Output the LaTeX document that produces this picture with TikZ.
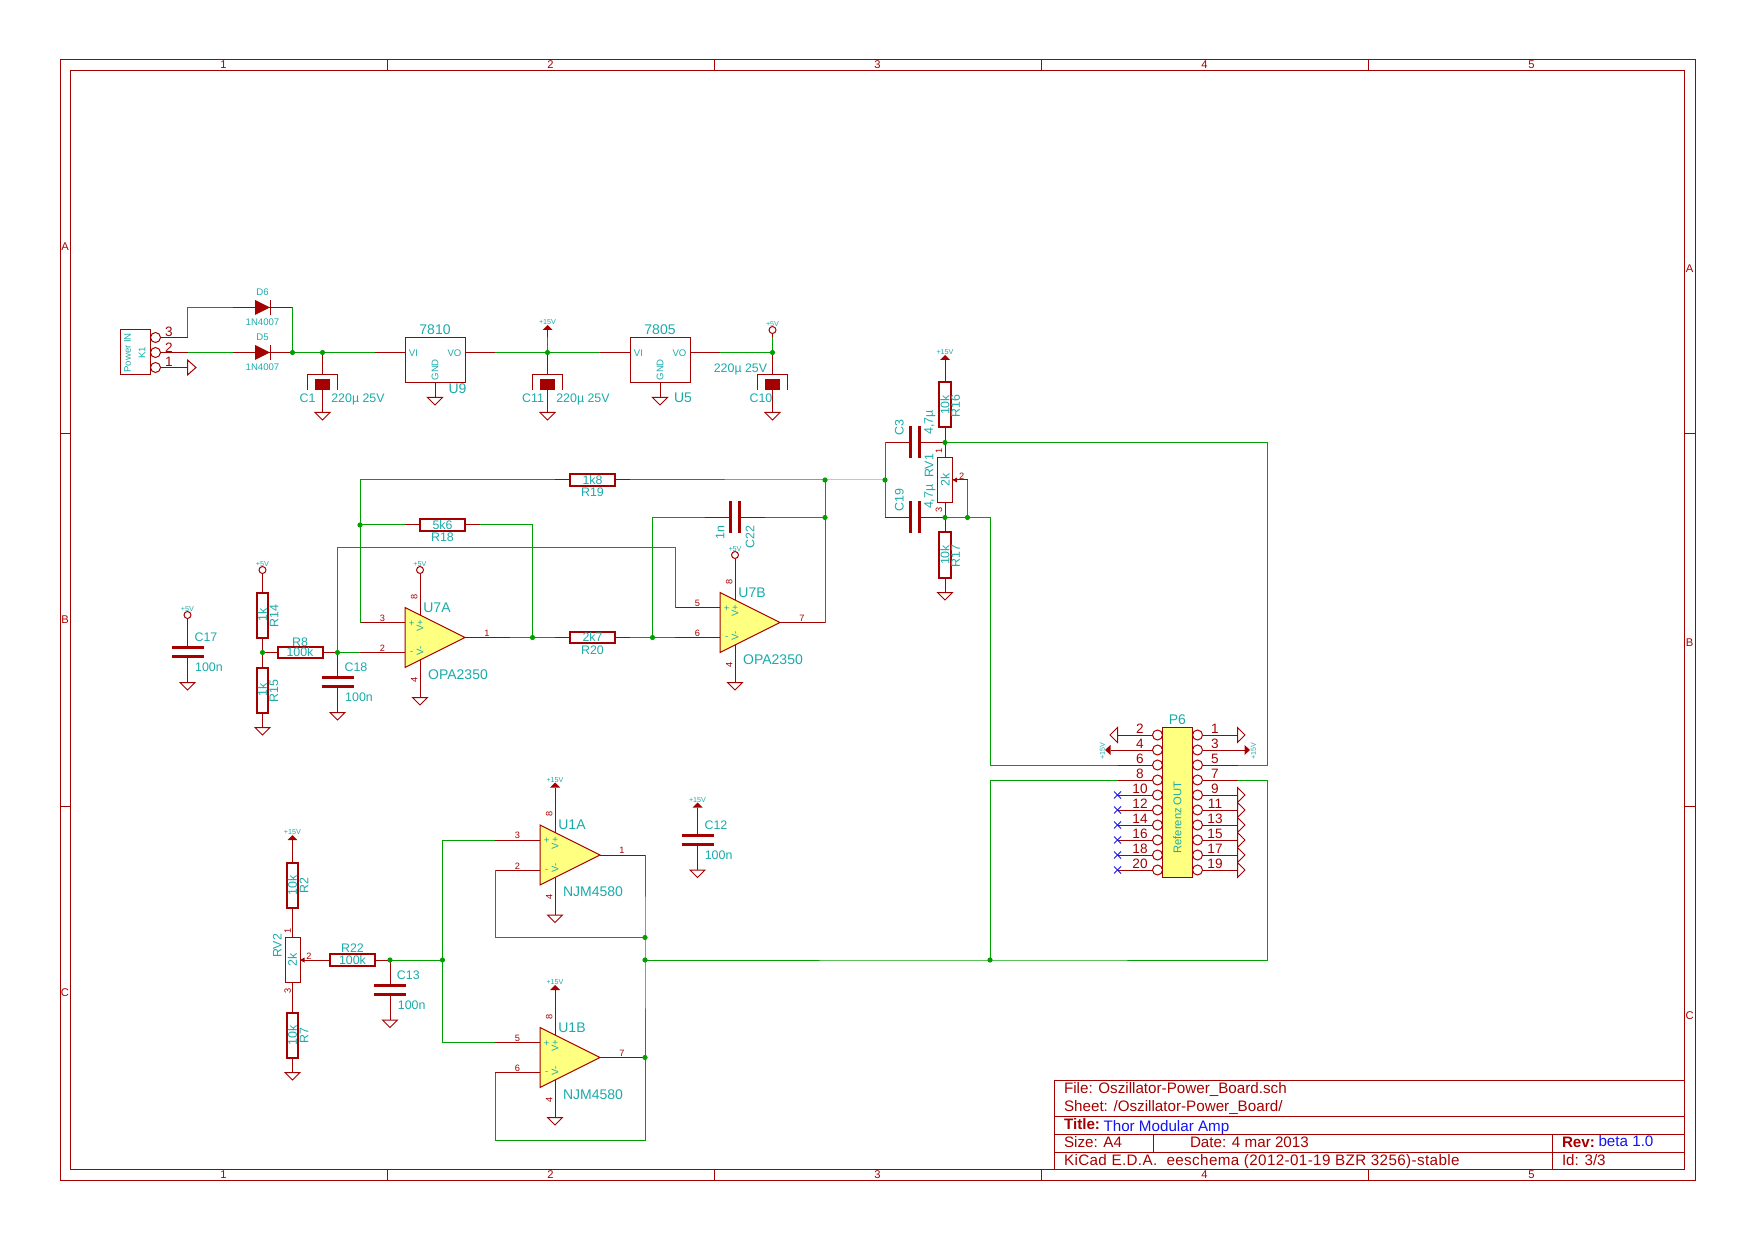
\documentclass[tikz,border=0pt]{standalone}
\usepackage{fontspec}
\setmainfont{Liberation Sans}
\usetikzlibrary{calc}
\definecolor{sch_red}{RGB}{165,0,0}
\definecolor{sch_green}{RGB}{0,160,0}
\definecolor{sch_teal}{RGB}{25,170,170}
\definecolor{sch_yellow}{RGB}{255,255,128}
\definecolor{sch_blue}{RGB}{20,20,240}
\tikzset{
  wire/.style={draw=sch_green, line width=.5pt},
  pinline/.style={draw=sch_red, line width=.5pt},
  frameline/.style={draw=sch_red, line width=.5pt},
  resbox/.style={draw=sch_red, line width=1pt, rectangle, minimum width=22.5pt, minimum height=5.6pt,
    inner sep=0pt, outer sep=0pt, text=sch_teal, font=\fontsize{6.2}{7}\selectfont},
  potbox/.style={resbox, line width=.5pt, minimum height=7.5pt},
  regbox/.style={draw=sch_red, line width=.5pt, rectangle, minimum width=30pt, minimum height=22.5pt,
    inner sep=0pt, outer sep=0pt},
  pincirc/.style={draw=sch_red, line width=.5pt, circle, minimum size=5pt, inner sep=0pt, outer sep=0pt},
  pwrcirc/.style={draw=sch_red, line width=.5pt, circle, minimum size=3.5pt, inner sep=0pt, outer sep=0pt},
  plate/.style={draw=sch_red, line width=1.6pt},
  schlab/.style={text=sch_teal, inner sep=0pt, outer sep=0pt, yshift=-.4pt, font=\fontsize{6.2}{7}\selectfont},
  labbig/.style={font=\fontsize{7}{8}\selectfont},
  labsmall/.style={font=\fontsize{4.8}{5}\selectfont},
  labtiny/.style={font=\fontsize{3.6}{4}\selectfont},
  rot/.style={rotate=90},
  pinno/.style={text=sch_red, font=\fontsize{4.6}{5}\selectfont},
  pinbig/.style={text=sch_red, font=\fontsize{6.8}{7}\selectfont},
  titletxt/.style={text=sch_red, anchor=base west, inner sep=0pt, outer sep=0pt, font=\fontsize{7.6}{8}\selectfont},
  titleblue/.style={titletxt, text=sch_blue},
  titlebold/.style={titletxt, font=\fontsize{7.6}{8}\selectfont\bfseries},
  ticktxt/.style={text=sch_red, inner sep=0pt, outer sep=0pt, font=\fontsize{5.6}{6}\selectfont},
}
% text helper
\newcommand{\schtxt}[4][]{\node[schlab,#1] (#2) at (#3) {#4};}
% ground symbol, top at the given point
\newcommand{\gndsym}[3]{%
  \coordinate (#1) at (#2,#3);
  \draw[pinline] (#1) ++(-7.5,0) -- ++(15,0) -- ++(-7.5,7.5) -- cycle;}
% supplies
\newcommand{\pwrarrow}[3]{%
  \coordinate (#1) at (#2,#3);
  \fill[sch_red] (#1) ++(-5,0) -- ++(10,0) -- ++(-5,-5) -- cycle;
  \schtxt[labtiny]{l#1}{#2,#3-8.5}{+15V}}
\newcommand{\pwrcircle}[3]{%
  \node[pwrcirc] (#1) at (#2,#3) {};
  \schtxt[labtiny]{l#1}{#2,#3-7}{+5V}}
% diode: name, x, y
\newcommand{\diodesym}[3]{%
  \coordinate (#1a) at (#2-30,#3);
  \coordinate (#1k) at (#2+30,#3);
  \draw[pinline] (#1a) -- (#1k);
  \fill[sch_red] (#2-7.5,#3-7.5) -- (#2+7.5,#3) -- (#2-7.5,#3+7.5) -- cycle;
  \draw[pinline] (#2+7.5,#3-7.5) -- (#2+7.5,#3+7.5);}
% regulator: name, x, value, ref x, ref y
\newcommand{\regsym}[5]{%
  \node[regbox] (#1) at (#2,360) {};
  \coordinate (#1i) at (#2-60,352.5);
  \coordinate (#1o) at (#2+60,352.5);
  \draw[pinline] (#1i) -- (#2-30,352.5);
  \draw[pinline] (#2+30,352.5) -- (#1o);
  \gndsym{#1g}{#2}{397.5}
  \draw[pinline] (#2,382.5) -- (#1g);
  \schtxt[labbig]{l#1v}{#2,329}{#3}
  \schtxt[labsmall]{l#1i}{#2-21.5,352.5}{VI}
  \schtxt[labsmall]{l#1o}{#2+19.5,352.5}{VO}
  \schtxt[labsmall,rot]{l#1g}{#2,369}{GND}
  \schtxt[labbig]{l#1}{#4,#5}{#1}}
% polarised capacitor: name, x
\newcommand{\polcap}[2]{%
  \coordinate (#1t) at (#2,352.5);
  \draw[pinline] (#1t) -- (#2,375);
  \draw[pinline] (#2-15,390) -- (#2-15,375) -- (#2+15,375) -- (#2+15,390);
  \fill[sch_red] (#2-7.5,379) rectangle (#2+7.5,390);
  \gndsym{#1g}{#2}{412.5}
  \draw[pinline] (#2,390) -- (#1g);}
% capacitor with horizontal plates: name, x, y of the middle, y of the ground
\newcommand{\caph}[4]{%
  \coordinate (#1t) at (#2,#3-4.5);
  \coordinate (#1b) at (#2,#3+4.5);
  \draw[plate] (#2-16,#3-4.5) -- (#2+16,#3-4.5);
  \draw[plate] (#2-16,#3+4.5) -- (#2+16,#3+4.5);
  \gndsym{#1g}{#2}{#4}
  \draw[pinline] (#1b) -- (#1g);}
% capacitor with vertical plates: name, x of the middle, y
\newcommand{\capv}[3]{%
  \coordinate (#1l) at (#2-4.5,#3);
  \coordinate (#1r) at (#2+4.5,#3);
  \draw[plate] (#2-4.5,#3-16) -- (#2-4.5,#3+16);
  \draw[plate] (#2+4.5,#3-16) -- (#2+4.5,#3+16);}
% op amp: name, x, y, plus, minus, out, value
\newcommand{\opampsym}[7]{%
  \begin{scope}[shift={(#2,#3)}]
    \draw[pinline, fill=sch_yellow] (-30,-30) -- (-30,30) -- (30,0) -- cycle;
    \coordinate (#1p) at (-75,-15);
    \coordinate (#1m) at (-75,15);
    \coordinate (#1o) at (75,0);
    \coordinate (#1t) at (-15,-22.5);
    \coordinate (#1b) at (-15,22.5);
    \draw[pinline] (#1p) -- (-30,-15);
    \draw[pinline] (#1m) -- (-30,15);
    \draw[pinline] (30,0) -- (#1o);
    \gndsym{#1g}{-15}{60}
    \draw[pinline] (#1b) -- (#1g);
    \schtxt[pinno]{n#1p}{-52.5,-20}{#4}
    \schtxt[pinno]{n#1m}{-52.5,10}{#5}
    \schtxt[pinno]{n#1o}{52,-5}{#6}
    \schtxt[pinno,rot]{n#1t}{-20.7,-41.5}{8}
    \schtxt[pinno,rot]{n#1b}{-20.7,41.5}{4}
    \schtxt[labsmall]{s#1p}{-23.3,-15}{+}
    \schtxt[labsmall]{s#1m}{-23.3,15}{-}
    \schtxt[labsmall,rot]{s#1a}{-15,-12.5}{V+}
    \schtxt[labsmall,rot]{s#1b}{-15,12.5}{V-}
    \schtxt[labbig]{l#1}{2,-31}{#1}
    \schtxt[labbig]{l#1v}{23,36}{#7}
  \end{scope}}

\begin{document}
\begin{tikzpicture}[x=0.5pt, y=-0.5pt]
  \useasboundingbox (0,0) rectangle (1755,1240);

  % sheet frame
  \draw[frameline] (60,60) rectangle (1695,1180);
  \draw[frameline] (70.5,70.5) rectangle (1684.5,1169.5);
  \foreach \px in {387,714,1041,1368} {
    \draw[frameline] (\px,60) -- (\px,70.5);
    \draw[frameline] (\px,1169.5) -- (\px,1180);
  }
  \foreach \py in {433.3,806.7} {
    \draw[frameline] (60,\py) -- (70.5,\py);
    \draw[frameline] (1684.5,\py) -- (1695,\py);
  }
  \foreach \n/\px in {1/223.5,2/550.5,3/877.5,4/1204.5,5/1531.5} {
    \node[ticktxt] (topn\n) at (\px,65) {\n};
    \node[ticktxt] (botn\n) at (\px,1174.5) {\n};
  }
  \foreach \n/\py/\qy in {A/246.7/268.6,B/620/642.5,C/993/1016} {
    \node[ticktxt] (left\n) at (65,\py) {\n};
    \node[ticktxt] (right\n) at (1689.7,\qy) {\n};
  }

  % title block
  \draw[frameline] (1054.5,1169.5) -- (1054.5,1080) -- (1684.5,1080);
  \draw[frameline] (1054.5,1116) -- (1684.5,1116);
  \draw[frameline] (1054.5,1134) -- (1684.5,1134);
  \draw[frameline] (1054.5,1152) -- (1684.5,1152);
  \draw[frameline] (1153,1134) -- (1153,1152);
  \draw[frameline] (1552.5,1134) -- (1552.5,1169.5);
  \node[titletxt] (tfile) at (1064,1093.5) {File: Oszillator-Power\_Board.sch};
  \node[titletxt] (tsheet) at (1064,1111) {Sheet: /Oszillator-Power\_Board/};
  \node[titlebold] (ttitle) at (1064,1129) {Title:};
  \node[titleblue] (tname) at (1103.5,1131) {Thor Modular Amp};
  \node[titletxt] (tsize) at (1064,1147.5) {Size: A4};
  \node[titletxt] (tdate) at (1190,1147.5) {Date: 4 mar 2013};
  \node[titlebold] (trev) at (1562,1147) {Rev:};
  \node[titleblue] (trevno) at (1598.5,1146) {beta 1.0};
  \node[titletxt] (tkicad) at (1064,1165) {\addfontfeature{LetterSpace=2.5}KiCad E.D.A.\ \ eeschema (2012-01-19 BZR 3256)-stable};
  \node[titletxt] (tid) at (1562,1165) {Id: 3/3};

  % junctions
  \foreach \jn/\px/\py in {jA/292.5/352.5,jB/322.5/352.5,jC/547.5/352.5,jD/772.5/352.5,
      jE/945/442.5,jF/885/480,jG/825/480,jH/825/517.5,jI/945/517.5,jJ/967.5/517.5,
      jK/360/525,jL/532.5/637.5,jM/652.5/637.5,jN/262.5/652.5,jO/337.5/652.5,
      jP/390/960,jQ/442.5/960,jR/645/937.5,jS/645/960,jT/645/1057.5,jU/990/960} {
    \coordinate (\jn) at (\px,\py);
  }

  % connector K1
  \node[regbox, minimum width=15pt, minimum height=22.5pt] (K1) at (135,352.5) {};
  \schtxt[labsmall,rot]{lK1a}{127.5,352}{Power IN}
  \schtxt[labsmall,rot]{lK1b}{142,352}{K1}
  \foreach \n/\py in {3/337.5,2/352.5,1/367.5} {
    \node[pincirc] (K1c\n) at (155.5,\py) {};
    \coordinate (K1e\n) at (187.5,\py);
    \draw[pinline] (K1c\n) -- (K1e\n);
    \node[schlab, pinbig] (K1n\n) at (169,\py-6) {\n};
  }
  \draw[pinline] (K1e1) ++(0,-7.5) -- ++(0,15) -- ++(8.5,-7.5) -- cycle;

  % rectifier diodes
  \diodesym{D6}{262.5}{307.5}
  \diodesym{D5}{262.5}{352.5}
  \schtxt[labsmall]{lD6}{262.5,291.7}{D6}
  \schtxt[labsmall]{vD6}{262.5,321.7}{1N4007}
  \schtxt[labsmall]{lD5}{262.5,336.7}{D5}
  \schtxt[labsmall]{vD5}{262.5,366.7}{1N4007}
  \draw[wire] (K1e3) |- (D6a);
  \draw[wire] (K1e2) -- (D5a);
  \draw[wire] (D6k) -- (jA);

  % regulators
  \regsym{U9}{435}{7810}{457.5}{388}
  \regsym{U5}{660}{7805}{683}{396.5}
  \polcap{C1}{322.5}
  \polcap{C11}{547.5}
  \polcap{C10}{772.5}
  \schtxt{lC1}{307.5,397}{C1}
  \schtxt{vC1}{358,398.5}{220µ 25V}
  \schtxt{lC11}{533,397}{C11}
  \schtxt{vC11}{583,398.5}{220µ 25V}
  \schtxt{lC10}{761,397}{C10}
  \schtxt{vC10}{740.5,368.8}{220µ 25V}
  \draw[wire] (jA) -- (jB) -- (U9i);
  \draw[wire] (U9o) -- (jC) -- (U5i);
  \draw[wire] (U5o) -- (jD);
  \pwrarrow{pwA}{547.5}{330}
  \coordinate (pwAw) at (547.5,337.5);
  \draw[pinline] (pwAw) -- (pwA);
  \draw[wire] (jC) -- (pwAw);
  \pwrcircle{pwB}{772.5}{330}
  \coordinate (pwBw) at (772.5,337.5);
  \draw[pinline] (pwBw) -- (pwB);
  \draw[wire] (jD) -- (pwBw);

  % reference divider
  \node[resbox, rotate=90] (R16) at (945,405) {10k};
  \node[potbox, rotate=90] (RV1) at (945,480) {2k};
  \node[resbox, rotate=90] (R17) at (945,555) {10k};
  \pwrarrow{pwC}{945}{360}
  \gndsym{gR17}{945}{592.5}
  \draw[pinline] (R16.east) -- (pwC);
  \draw[pinline] (R16.west) -- (RV1.east);
  \draw[pinline] (RV1.west) -- (R17.east);
  \draw[pinline] (R17.west) -- (gR17);
  \coordinate (RV1w) at (967.5,480);
  \draw[pinline] (RV1.south) -- (RV1w);
  \fill[sch_red] (952.5,480) -- (957,477.5) -- (957,482.5) -- cycle;
  \schtxt[rot]{lR16}{955.7,405}{R16}
  \schtxt[rot]{lR17}{955.7,555}{R17}
  \schtxt[rot]{lRV1}{929,465}{RV1}
  \schtxt[pinno,rot]{nRV1a}{939,450}{1}
  \schtxt[pinno]{nRV1b}{961.7,475}{2}
  \schtxt[pinno,rot]{nRV1c}{939,509.5}{3}
  \capv{C3}{915}{442.5}
  \capv{C19}{915}{517.5}
  \coordinate (C3e) at (885,442.5);
  \coordinate (C19e) at (885,517.5);
  \draw[pinline] (C3e) -- (C3l);
  \draw[pinline] (C3r) -- (jE);
  \draw[pinline] (C19e) -- (C19l);
  \draw[pinline] (C19r) -- (jI);
  \schtxt[rot]{lC3}{899.3,427}{C3}
  \schtxt[rot]{vC3}{930,421.7}{4,7µ}
  \schtxt[rot]{lC19}{899.3,499}{C19}
  \schtxt[rot]{vC19}{930,496}{4,7µ}

  % first amplifier
  \opampsym{U7A}{435}{637.5}{3}{2}{1}{OPA2350}
  \opampsym{U7B}{750}{622.5}{5}{6}{7}{OPA2350}
  \pwrcircle{pwD}{420}{570}
  \pwrcircle{pwE}{735}{555}
  \draw[pinline] (pwD) -- (U7At);
  \draw[pinline] (pwE) -- (U7Bt);
  \node[resbox] (R19) at (592.5,480) {1k8};
  \node[resbox] (R18) at (442.5,525) {5k6};
  \node[resbox] (R20) at (592.5,637.5) {2k7};
  \node[resbox] (R8) at (300,652.5) {100k};
  \node[resbox, rotate=90] (R14) at (262.5,615) {1k};
  \node[resbox, rotate=90] (R15) at (262.5,690) {1k};
  \schtxt{lR19}{592.5,491.5}{R19}
  \schtxt{lR18}{442.5,536}{R18}
  \schtxt{lR20}{592.5,649}{R20}
  \schtxt{lR8}{300,641}{R8}
  \schtxt[rot]{lR14}{274,615}{R14}
  \schtxt[rot]{lR15}{274,690}{R15}
  \foreach \rn/\px/\py/\qx in {R19/555/480/630,R18/405/525/480,R20/555/637.5/630} {
    \coordinate (\rn l) at (\px,\py);
    \coordinate (\rn r) at (\qx,\py);
    \draw[pinline] (\rn l) -- (\rn.west);
    \draw[pinline] (\rn.east) -- (\rn r);
  }
  \pwrcircle{pwF}{262.5}{570}
  \gndsym{gR15}{262.5}{727.5}
  \draw[pinline] (pwF) -- (R14.east);
  \draw[pinline] (R14.west) -- (R15.east);
  \draw[pinline] (R15.west) -- (gR15);
  \draw[pinline] (jN) -- (R8.west);
  \draw[pinline] (R8.east) -- (jO);
  \caph{C18}{337.5}{682}{712.5}
  \draw[pinline] (jO) -- (C18t);
  \schtxt{lC18}{356,666.7}{C18}
  \schtxt{vC18}{359,696.7}{100n}
  \pwrcircle{pwG}{187.5}{615}
  \caph{C17}{187.5}{652}{682.5}
  \draw[pinline] (pwG) -- (C17t);
  \schtxt{lC17}{206,636.7}{C17}
  \schtxt{vC17}{209,666.7}{100n}
  \capv{C22}{735}{517.5}
  \coordinate (C22a) at (705,517.5);
  \coordinate (C22b) at (765,517.5);
  \draw[pinline] (C22a) -- (C22l);
  \draw[pinline] (C22r) -- (C22b);
  \schtxt[rot]{vC22}{720,532}{1n}
  \schtxt[rot]{lC22}{750,536}{C22}

  % second amplifier
  \opampsym{U1A}{570}{855}{3}{2}{1}{NJM4580}
  \opampsym{U1B}{570}{1057.5}{5}{6}{7}{NJM4580}
  \pwrarrow{pwH}{555}{787.5}
  \pwrarrow{pwI}{555}{990}
  \draw[pinline] (pwH) -- (U1At);
  \draw[pinline] (pwI) -- (U1Bt);
  \node[resbox, rotate=90] (R2) at (292.5,885) {10k};
  \node[potbox, rotate=90] (RV2) at (292.5,960) {2k};
  \node[resbox, rotate=90] (R7) at (292.5,1035) {10k};
  \node[resbox] (R22) at (352.5,960) {100k};
  \pwrarrow{pwJ}{292.5}{840}
  \gndsym{gR7}{292.5}{1072.5}
  \draw[pinline] (R2.east) -- (pwJ);
  \draw[pinline] (R2.west) -- (RV2.east);
  \draw[pinline] (RV2.west) -- (R7.east);
  \draw[pinline] (R7.west) -- (gR7);
  \draw[pinline] (RV2.south) -- (R22.west);
  \draw[pinline] (R22.east) -- (jP);
  \fill[sch_red] (300,960) -- (304.5,957.5) -- (304.5,962.5) -- cycle;
  \schtxt[rot]{lR2}{304,885}{R2}
  \schtxt[rot]{lR7}{304,1035}{R7}
  \schtxt[rot]{lRV2}{277.3,945}{RV2}
  \schtxt{lR22}{352.5,947.7}{R22}
  \schtxt[pinno,rot]{nRV2a}{287.7,930}{1}
  \schtxt[pinno]{nRV2b}{309,955}{2}
  \schtxt[pinno,rot]{nRV2c}{287.7,990}{3}
  \caph{C13}{390}{990}{1020}
  \draw[pinline] (jP) -- (C13t);
  \schtxt{lC13}{408.3,974}{C13}
  \schtxt{vC13}{411.7,1004}{100n}
  \pwrarrow{pwK}{697.5}{807.5}
  \caph{C12}{697.5}{840}{870}
  \draw[pinline] (pwK) -- (C12t);
  \schtxt{lC12}{716,824.5}{C12}
  \schtxt{vC12}{718.6,854.5}{100n}

  % connector P6
  \node[regbox, fill=sch_yellow, minimum width=15pt, minimum height=75pt] (P6) at (1177.5,802.5) {};
  \schtxt[rot,font=\fontsize{5.6}{6}\selectfont]{lP6v}{1177.3,816.7}{Referenz OUT}
  \schtxt[labbig]{lP6}{1177.3,719}{P6}
  \foreach \n/\py in {2/735,4/750,6/765,8/780,10/795,12/810,14/825,16/840,18/855,20/870} {
    \node[pincirc] (P6c\n) at (1157.5,\py) {};
    \coordinate (P6e\n) at (1117.5,\py);
    \draw[pinline] (P6c\n) -- (P6e\n);
    \node[schlab, pinbig] (P6n\n) at (1140,\py-7) {\n};
  }
  \foreach \n/\py in {1/735,3/750,5/765,7/780,9/795,11/810,13/825,15/840,17/855,19/870} {
    \node[pincirc] (P6c\n) at (1197.5,\py) {};
    \coordinate (P6e\n) at (1237.5,\py);
    \draw[pinline] (P6c\n) -- (P6e\n);
    \node[schlab, pinbig] (P6n\n) at (1215,\py-7) {\n};
  }
  \foreach \py in {735,795,810,825,840,855,870} {
    \draw[pinline] (1237.5,\py-7.5) -- (1245,\py) -- (1237.5,\py+7.5) -- cycle;
  }
  \draw[pinline] (1117.5,727.5) -- (1110,735) -- (1117.5,742.5) -- cycle;
  \foreach \py in {795,810,825,840,855,870} {
    \draw[draw=sch_blue, line width=.5pt] (1114,\py-3.5) -- (1121,\py+3.5);
    \draw[draw=sch_blue, line width=.5pt] (1114,\py+3.5) -- (1121,\py-3.5);
  }
  \draw[pinline] (P6e3) -- (1244.5,750);
  \fill[sch_red] (1250,750) -- (1244.5,745) -- (1244.5,755) -- cycle;
  \schtxt[labtiny,rot]{lP6a}{1253.5,750}{+15V}
  \draw[pinline] (P6e4) -- (1110.5,750);
  \fill[sch_red] (1105,750) -- (1110.5,745) -- (1110.5,755) -- cycle;
  \schtxt[labtiny,rot]{lP6b}{1102.5,750}{+15V}

  % wires
  \coordinate (wA) at (1267.5,442.5);
  \coordinate (wB) at (990,517.5);
  \coordinate (wC) at (1267.5,960);
  \coordinate (wD) at (337.5,547.5);
  \coordinate (wE) at (652.5,517.5);
  \coordinate (wF) at (495,937.5);
  \coordinate (wG) at (495,1140);
  \draw[wire] (jE) -- (wA) |- (P6e5);
  \draw[wire] (jI) -- (jJ) -- (wB) |- (P6e6);
  \draw[wire] (RV1w) -- (jJ);
  \draw[wire] (jS) -- (jU) -- (wC) |- (P6e7);
  \draw[wire] (jU) |- (P6e8);
  \draw[wire] (C3e) -- (jF) -- (C19e);
  \draw[wire] (jF) -- (jG) -- (R19r);
  \draw[wire] (R19l) -| (U7Ap);
  \draw[wire] (jK) -- (R18l);
  \draw[wire] (R18r) -| (jL);
  \draw[wire] (U7Ao) -- (jL) -- (R20l);
  \draw[wire] (R20r) -- (jM) -- (U7Bm);
  \draw[wire] (jO) -- (U7Am);
  \draw[wire] (jO) -- (wD) -| (U7Bp);
  \draw[wire] (C22a) -- (wE) -- (jM);
  \draw[wire] (C22b) -- (jH);
  \draw[wire] (U7Bo) -- (jH) -- (jG);
  \draw[wire] (jP) -- (jQ);
  \draw[wire] (jQ) |- (U1Ap);
  \draw[wire] (jQ) |- (U1Bp);
  \draw[wire] (U1Am) -- (wF) -- (jR);
  \draw[wire] (U1Ao) -- (jR) -- (jS) -- (jT);
  \draw[wire] (U1Bm) -- (wG) -| (jT);

  \foreach \jn in {jA,jB,jC,jD,jE,jF,jG,jH,jI,jJ,jK,jL,jM,jN,jO,jP,jQ,jR,jS,jT,jU} {
    \fill[sch_green] (\jn) circle (2.6);
  }
\end{tikzpicture}
\end{document}
